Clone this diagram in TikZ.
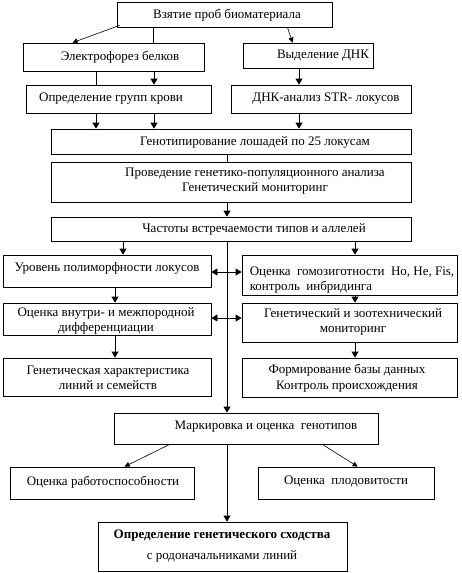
\documentclass[tikz,border=0pt]{standalone}
\usepackage{fontspec}
\setmainfont{Liberation Serif}
\usetikzlibrary{arrows.meta,calc}
\tikzset{
  box/.style={draw,line width=0.8pt,rectangle,inner sep=0pt},
  txt/.style={inner sep=0pt,align=center,font=\fontsize{13}{15.5}\selectfont},
  ln/.style={line width=0.8pt},
  arr/.style={line width=0.8pt,-{Triangle[length=6pt,width=7pt]}},
  darr/.style={line width=0.8pt,{Triangle[length=6pt,width=7pt]}-{Triangle[length=6pt,width=7pt]}},
  sarr/.style={line width=0.6pt,-{Triangle[length=5pt,width=5pt]}}
}
\newcommand{\bx}[7]{%
  \pgfmathsetmacro{\bw}{#4-#2}\pgfmathsetmacro{\bh}{#5-#3}%
  \pgfmathsetmacro{\bcx}{(#2+#4)/2}\pgfmathsetmacro{\bcy}{(#3+#5)/2}%
  \node[box,minimum width=\bw pt,minimum height=\bh pt] (#1) at (\bcx,\bcy) {};%
  \node[txt] (#1-t) at #6 {#7};}
\begin{document}
\begin{tikzpicture}[x=1pt,y=-1pt]
\useasboundingbox (0,0) rectangle (462,573);
% x positions
\foreach \xx in {96,115,123,153,154,227,299,355}{\coordinate (x\xx) at (\xx,0);}
\coordinate (y272) at (0,272);
\coordinate (y318) at (0,318);

\bx{b1}{117}{2}{332}{27}{(227,15)}{Взятие проб биоматериала}
\bx{elf}{23}{43}{204}{71}{(120,57)}{Электрофорез белков}
\bx{dnk}{243}{43}{373}{68}{(323,56)}{Выделение ДНК}
\bx{grp}{26}{85}{211}{113}{(111,99)}{Определение групп крови}
\bx{str}{231}{85}{411}{113}{(326,99)}{ДНК-анализ STR- локусов}
\bx{gen}{51}{129}{411}{154}{(255,142)}{Генотипирование лошадей по 25 локусам}
\bx{pop}{51}{162}{411}{202}{(255,181)}{Проведение генетико-популяционного анализа\\Генетический мониторинг}
\bx{frq}{51}{217}{411}{241}{(254,229)}{Частоты встречаемости типов и аллелей}
\bx{pol}{3}{255}{211}{287}{(107,268)}{Уровень полиморфности локусов}
\bx{hom}{242}{255}{457}{295}{(352,280)}{\begin{tabular}{@{}l@{}}Оценка \ гомозиготности \ Ho, He, Fis,\\контроль \ инбридинга\end{tabular}}
\bx{dif}{3}{303}{211}{335}{(106,321)}{Оценка внутри- и межпородной\\дифференциации}
\bx{mon}{242}{303}{457}{342}{(353,322)}{Генетический и зоотехнический\\мониторинг}
\bx{lin}{3}{358}{211}{396}{(108,378)}{Генетическая характеристика\\линий и семейств}
\bx{db}{242}{358}{457}{397}{(347,378)}{Формирование базы данных\\Контроль происхождения}
\bx{mrk}{114}{413}{378}{444}{(266,427)}{Маркировка и оценка \ генотипов}
\bx{wrk}{10}{467}{194}{499}{(103,482)}{Оценка работоспособности}
\bx{fert}{258}{467}{434}{499}{(346,481)}{Оценка \ плодовитости}
\bx{sim}{98}{522}{347}{571}{(222,546)}{\textbf{Определение генетического сходства}\\[5pt]с родоначальниками линий}

% connectors
\draw[sarr] ([xshift=3pt,yshift=2pt]b1.south west) -- ([xshift=50pt]elf.north west);
\draw[ln] (b1.south -| x153) -- (elf.north -| x153);
\draw[sarr] ([xshift=-45pt]b1.south east) -- ([xshift=50pt]dnk.north west);
\draw[ln] (elf.south -| x96) -- (grp.north -| x96);
\draw[arr] (elf.south -| x154) -- (grp.north -| x154);
\draw[arr] (dnk.south -| x299) -- (str.north -| x299);
\draw[arr] (grp.south -| x96) -- (gen.north -| x96);
\draw[arr] (grp.south -| x154) -- (gen.north -| x154);
\draw[arr] (str.south -| x299) -- (gen.north -| x299);
\draw[ln] (gen.south -| x227) -- (pop.north -| x227);
\draw[arr] (pop.south -| x227) -- (frq.north -| x227);
\draw[arr] (frq.south -| x123) -- (pol.north -| x123);
\draw[arr] (frq.south -| x355) -- (hom.north -| x355);
\draw[arr] (frq.south -| x227) -- (mrk.north -| x227);
\draw[darr] (pol.east |- y272) -- (hom.west |- y272);
\draw[arr] (pol.south -| x115) -- (dif.north -| x115);
\draw[arr] (hom.south -| x355) -- (mon.north -| x355);
\draw[darr] (dif.east |- y318) -- (mon.west |- y318);
\draw[arr] (dif.south -| x115) -- (lin.north -| x115);
\draw[arr] (mon.south -| x355) -- (db.north -| x355);
\draw[sarr] ([xshift=56pt]mrk.south west) -- ([xshift=115pt]wrk.north west);
\draw[sarr] ([xshift=-56pt]mrk.south east) -- ([xshift=100pt]fert.north west);
\draw[arr] (mrk.south -| x227) -- (sim.north -| x227);
\end{tikzpicture}
\end{document}
